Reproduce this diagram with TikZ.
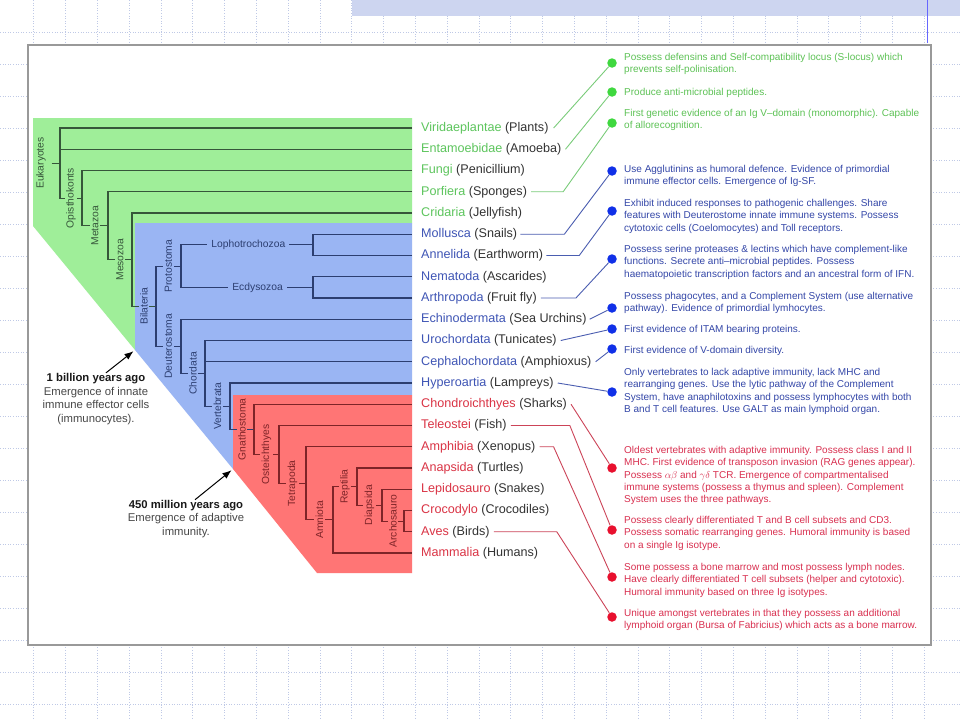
\documentclass[tikz,border=0pt]{standalone}
\usepackage{fontspec}
\setmainfont{Liberation Sans}
\usepackage{xcolor}
\usetikzlibrary{arrows.meta}

\definecolor{gfill}{HTML}{9FEE99}
\definecolor{bfill}{HTML}{9AB5F3}
\definecolor{rfill}{HTML}{FF7575}
\definecolor{gdark}{HTML}{36563A}
\definecolor{bdark}{HTML}{2C3E70}
\definecolor{rdark}{HTML}{7E2428}
\definecolor{gname}{HTML}{5DC55D}
\definecolor{bname}{HTML}{3F55B5}
\definecolor{rname}{HTML}{DA3445}
\definecolor{gtext}{HTML}{5DC255}
\definecolor{btext}{HTML}{3447A8}
\definecolor{rtext}{HTML}{D93050}
\definecolor{glink}{HTML}{7ACC7A}
\definecolor{blink}{HTML}{4A5DB0}
\definecolor{rlink}{HTML}{CC4458}
\definecolor{gbul}{HTML}{3FD83F}
\definecolor{bbul}{HTML}{1030E8}
\definecolor{rbul}{HTML}{E8102E}
\definecolor{gridc}{HTML}{BFC9E6}
\definecolor{bandc}{HTML}{CDD5F0}

\begin{document}
\begin{tikzpicture}[x=1pt,y=-1pt,
    gridline/.style={gridc, dotted, line width=0.6pt},
    tree/.style={line width=1.1pt},
    lab/.style={font=\fontsize{10.3}{12}\selectfont, inner sep=1.5pt},
    vlab/.style={lab, rotate=90},
    leaf/.style={anchor=west, inner sep=0pt, font=\fontsize{12.6}{14}\selectfont, text=black!80},
    desc/.style={anchor=north west, align=left, inner sep=0pt, font=\fontsize{10}{12.3}\selectfont},
    bullet/.style={circle, inner sep=0pt, minimum size=9.5pt},
    link/.style={line width=0.9pt},
    note/.style={align=center, inner sep=0pt, font=\fontsize{11.3}{13.8}\selectfont, text=black!72}]
\useasboundingbox (0,0) rectangle (960,720);

% slide background
\foreach \gx in {0,...,28}
    \draw[gridline] ({33.6+31.8*\gx},0) -- ({33.6+31.8*\gx},720);
\foreach \gy in {0,...,21}
    \draw[gridline] (0,{32+32*\gy}) -- (960,{32+32*\gy});
\fill[bandc] (352,0) rectangle (960,16);
\draw[blue!60, line width=0.8pt] (927,0) -- (927,43);
\draw[black!40, line width=1.3pt, fill=white] (28,45) rectangle (931,645);

% coloured clades
\fill[gfill] (33,118) -- (412,118) -- (412,223) -- (135,223) -- (135,350) -- (33,226) -- cycle;
\fill[bfill] (135,223) -- (412,223) -- (412,395) -- (233,395) -- (233,469) -- (135,350) -- cycle;
\fill[rfill] (233,395) -- (412,395) -- (412,573) -- (317,573) -- (233,469) -- cycle;

% leaves
\foreach \nm/\cm [count=\i from 0] in {Viridaeplantae/Plants, Entamoebidae/Amoeba,
    Fungi/Penicillium, Porfiera/Sponges, Cridaria/Jellyfish} {
    \coordinate (lf\i) at (412,{128+21.25*\i});
    \node[leaf] (leaf\i) at (421,{128+21.25*\i}) {{\color{gname}\nm} (\cm)};
}
\foreach \nm/\cm [count=\i from 5] in {Mollusca/Snails, Annelida/Earthworm,
    Nematoda/Ascarides, Arthropoda/Fruit fly, Echinodermata/Sea Urchins,
    Urochordata/Tunicates, Cephalochordata/Amphioxus, Hyperoartia/Lampreys} {
    \coordinate (lf\i) at (412,{128+21.25*\i});
    \node[leaf] (leaf\i) at (421,{128+21.25*\i}) {{\color{bname}\nm} (\cm)};
}
\foreach \nm/\cm [count=\i from 13] in {Chondroichthyes/Sharks, Teleostei/Fish,
    Amphibia/Xenopus, Anapsida/Turtles, Lepidosauro/Snakes,
    Crocodylo/Crocodiles, Aves/Birds, Mammalia/Humans} {
    \coordinate (lf\i) at (412,{128+21.25*\i});
    \node[leaf] (leaf\i) at (421,{128+21.25*\i}) {{\color{rname}\nm} (\cm)};
}

% branch points
\coordinate (euk) at (60,163.05);
\coordinate (opis) at (82,198.1);
\coordinate (meta) at (108,225.7);
\coordinate (meso) at (132,259.6);
\coordinate (bila) at (156,306.2);
\coordinate (prot) at (181,266.1);
\coordinate (loph) at (313,244.9);
\coordinate (ecdy) at (313,287.4);
\coordinate (deut) at (181,346.3);
\coordinate (chor) at (205,373.3);
\coordinate (vert) at (230,406.2);
\coordinate (gnat) at (254,429.3);
\coordinate (oste) at (279,454.4);
\coordinate (tetr) at (306,483.3);
\coordinate (amni) at (333,519.8);
\coordinate (rept) at (357,486.6);
\coordinate (diap) at (382,505.2);
\coordinate (arch) at (404,521.1);

% tree - green part
\node[vlab, fill=gfill, text=gdark] (eukl) at (41,163.05) {Eukaryotes};
\draw[tree, gdark, shorten <=4pt] (eukl) -- (euk);
\draw[tree, gdark] (euk) |- (lf0) (euk) |- (lf1)
    (euk) |- node[pos=.75, vlab, fill=gfill] {Opisthokonts} (opis);
\draw[tree, gdark] (opis) |- (lf2)
    (opis) |- node[pos=.75, vlab, fill=gfill] {Metazoa} (meta);
\draw[tree, gdark] (meta) |- (lf3)
    (meta) |- node[pos=.75, vlab, fill=gfill] {Mesozoa} (meso);
\draw[tree, gdark] (meso) |- (lf4)
    (meso) |- node[pos=.75, vlab, fill=bfill, text=bdark] {Bilateria} (bila);

% tree - blue part
\draw[tree, bdark] (bila) |- node[pos=.75, vlab, fill=bfill] {Protostoma} (prot)
    (bila) |- node[pos=.75, vlab, fill=bfill] {Deuterostoma} (deut);
\draw[tree, bdark] (prot) |- node[pos=.755, lab, fill=bfill, inner xsep=4pt] {Lophotrochozoa} (loph)
    (prot) |- node[pos=.79, lab, fill=bfill, inner xsep=4pt] {Ecdysozoa} (ecdy);
\draw[tree, bdark] (loph) |- (lf5) (loph) |- (lf6);
\draw[tree, bdark] (ecdy) |- (lf7) (ecdy) |- (lf8);
\draw[tree, bdark] (deut) |- (lf9)
    (deut) |- node[pos=.75, vlab, fill=bfill] {Chordata} (chor);
\draw[tree, bdark] (chor) |- (lf10) (chor) |- (lf11)
    (chor) |- node[pos=.75, vlab, fill=bfill] {Vertebrata} (vert);
\draw[tree, bdark] (vert) |- (lf12)
    (vert) |- node[pos=.75, vlab, fill=rfill, text=rdark] {Gnathostoma} (gnat);

% tree - red part
\draw[tree, rdark] (gnat) |- (lf13)
    (gnat) |- node[pos=.75, vlab, fill=rfill] {Osteichthyes} (oste);
\draw[tree, rdark] (oste) |- (lf14)
    (oste) |- node[pos=.75, vlab, fill=rfill] {Tetrapoda} (tetr);
\draw[tree, rdark] (tetr) |- (lf15)
    (tetr) |- node[pos=.75, vlab, fill=rfill] {Amniota} (amni);
\draw[tree, rdark] (amni) |- (lf20)
    (amni) |- node[pos=.75, vlab, fill=rfill] {Reptilia} (rept);
\draw[tree, rdark] (rept) |- (lf16)
    (rept) |- node[pos=.75, vlab, fill=rfill] {Diapsida} (diap);
\draw[tree, rdark] (diap) |- (lf17)
    (diap) |- node[pos=.75, vlab, fill=rfill] {Archosauro} (arch);
\draw[tree, rdark] (arch) |- (lf18) (arch) |- (lf19);

% time marks
\coordinate (gbcorner) at (135,350);
\coordinate (brcorner) at (233,469);
\node[note] (bya) at (96,399) {{\bfseries\color{black!90}1 billion years ago}\\Emergence of innate\\immune effector cells\\(immunocytes).};
\node[note] (mya) at (186,519) {{\bfseries\color{black!90}450 million years ago}\\Emergence of adaptive\\immunity.};
\draw[-{Latex[length=9pt,width=7pt]}, line width=1pt, shorten >=2pt] ([xshift=10pt]bya.north) -- (gbcorner);
\draw[-{Latex[length=9pt,width=7pt]}, line width=1pt, shorten >=2pt] ([xshift=9pt]mya.north) -- (brcorner);

% bullets
\node[bullet, fill=gbul] (dot0) at (612,63) {};
\node[bullet, fill=gbul] (dot1) at (612,92) {};
\node[bullet, fill=gbul] (dot3) at (612,123) {};
\node[bullet, fill=bbul] (dot5) at (612,171) {};
\node[bullet, fill=bbul] (dot6) at (612,211) {};
\node[bullet, fill=bbul] (dot8) at (612,259) {};
\node[bullet, fill=bbul] (dot9) at (612,308) {};
\node[bullet, fill=bbul] (dot10) at (612,329) {};
\node[bullet, fill=bbul] (dot11) at (612,349) {};
\node[bullet, fill=bbul] (dot12) at (612,392) {};
\node[bullet, fill=rbul] (dot13) at (612,468) {};
\node[bullet, fill=rbul] (dot14) at (612,530) {};
\node[bullet, fill=rbul] (dot15) at (612,577) {};
\node[bullet, fill=rbul] (dot19) at (612,617) {};

% links
\draw[link, glink] ([xshift=5pt]leaf0.east) -- (dot0);
\draw[link, glink] ([xshift=4pt]leaf1.east) -- (dot1);
\draw[link, glink] ([xshift=4pt]leaf3.east) -- ++(32,0) -- (dot3);
\draw[link, blink] ([xshift=3pt]leaf5.east) -- ++(44,0) -- (dot5);
\draw[link, blink] ([xshift=3pt]leaf6.east) -- ++(33,0) -- (dot6);
\draw[link, blink] ([xshift=4pt]leaf8.east) -- ++(35,0) -- (dot8);
\draw[link, blink] ([xshift=3pt]leaf9.east) -- (dot9);
\draw[link, blink] ([xshift=4pt]leaf10.east) -- (dot10);
\draw[link, blink] ([xshift=4pt]leaf11.east) -- (dot11);
\draw[link, blink] ([xshift=4pt]leaf12.east) -- (dot12);
\draw[link, rlink] ([xshift=4pt]leaf13.east) -- (dot13);
\draw[link, rlink] ([xshift=4pt]leaf14.east) -- ++(59,0) -- (dot14);
\draw[link, rlink] ([xshift=4pt]leaf15.east) -- ++(14,0) -- (dot15);
\draw[link, rlink] ([xshift=4pt]leaf19.east) -- ++(63,0) -- (dot19);

% descriptions
\node[desc, gtext] (txt0) at (624,53) {Possess defensins and Self-compatibility locus (S-locus) which\\prevents self-polinisation.};
\node[desc, gtext] (txt1) at (624,88) {Produce anti-microbial peptides.};
\node[desc, gtext] (txt3) at (624,109) {First genetic evidence of an Ig V–domain (monomorphic). Capable\\of allorecognition.};
\node[desc, btext] (txt5) at (624,165) {Use Agglutinins as humoral defence. Evidence of primordial\\immune effector cells. Emergence of Ig-SF.};
\node[desc, btext] (txt6) at (624,199) {Exhibit induced responses to pathogenic challenges. Share\\features with Deuterostome innate immune systems. Possess\\cytotoxic cells (Coelomocytes) and Toll receptors.};
\node[desc, btext] (txt8) at (624,245) {Possess serine proteases \& lectins which have complement-like\\functions. Secrete anti–microbial peptides. Possess\\haematopoietic transcription factors and an ancestral form of IFN.};
\node[desc, btext] (txt9) at (624,292) {Possess phagocytes, and a Complement System (use alternative\\pathway). Evidence of primordial lymhocytes.};
\node[desc, btext] (txt10) at (624,325) {First evidence of ITAM bearing proteins.};
\node[desc, btext] (txt11) at (624,346) {First evidence of V-domain diversity.};
\node[desc, btext] (txt12) at (624,368) {Only vertebrates to lack adaptive immunity, lack MHC and\\rearranging genes. Use the lytic pathway of the Complement\\System, have anaphilotoxins and possess lymphocytes with both\\B and T cell features. Use GALT as main lymphoid organ.};
\node[desc, rtext] (txt13) at (624,446) {Oldest vertebrates with adaptive immunity. Possess class I and II\\MHC. First evidence of transposon invasion (RAG genes appear).\\Possess $\alpha\beta$ and $\gamma\delta$ TCR. Emergence of compartmentalised\\immune systems (possess a thymus and spleen). Complement\\System uses the three pathways.};
\node[desc, rtext] (txt14) at (624,516) {Possess clearly differentiated T and B cell subsets and CD3.\\Possess somatic rearranging genes. Humoral immunity is based\\on a single Ig isotype.};
\node[desc, rtext] (txt15) at (624,563) {Some possess a bone marrow and most possess lymph nodes.\\Have clearly differentiated T cell subsets (helper and cytotoxic).\\Humoral immunity based on three Ig isotypes.};
\node[desc, rtext] (txt19) at (624,609) {Unique amongst vertebrates in that they possess an additional\\lymphoid organ (Bursa of Fabricius) which acts as a bone marrow.};
\end{tikzpicture}
\end{document}
